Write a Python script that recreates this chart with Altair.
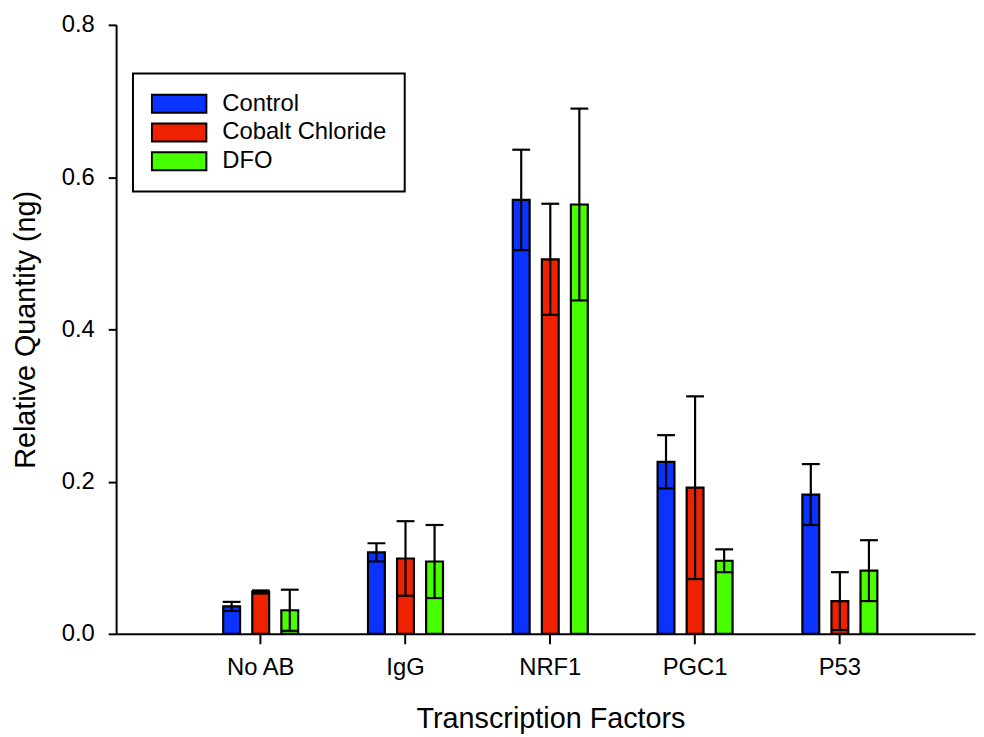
import altair as alt
import pandas as pd

categories = ["No AB", "IgG", "NRF1", "PGC1", "P53"]
series = ["Control", "Cobalt Chloride", "DFO"]
colors = ["#0a33ff", "#ee2200", "#48ff00"]

control = [0.036, 0.107, 0.570, 0.226, 0.183]
control_err = [0.006, 0.012, 0.066, 0.035, 0.040]
cobalt = [0.055, 0.099, 0.492, 0.192, 0.043]
cobalt_err = [0.002, 0.049, 0.073, 0.120, 0.038]
dfo = [0.031, 0.095, 0.564, 0.096, 0.083]
dfo_err = [0.027, 0.048, 0.126, 0.015, 0.040]

y_ticks = [0.0, 0.2, 0.4, 0.6, 0.8]

rows = []
for s, vals, errs in zip(series, [control, cobalt, dfo], [control_err, cobalt_err, dfo_err]):
    for c, v, e in zip(categories, vals, errs):
        rows.append({"factor": c, "group": s, "value": v, "lo": v - e, "hi": v + e})
df = pd.DataFrame(rows)

FONT = "Liberation Sans"
YTITLE = "Relative Quantity (ng)"

x = alt.X(
    "factor:N",
    sort=categories,
    title="Transcription Factors",
    scale=alt.Scale(paddingInner=0, paddingOuter=0.466, align=0.535),
    axis=alt.Axis(labelAngle=0, tickSize=10, labelPadding=12, titlePadding=25, titleX=438),
)
xo = alt.XOffset(
    "group:N",
    sort=series,
    scale=alt.Scale(range=[35.2, 110.8], paddingInner=0.42, paddingOuter=0),
)
yscale = alt.Scale(domain=[0, 0.8], nice=False)
y = alt.Y(
    "value:Q",
    scale=yscale,
    title=YTITLE,
    axis=alt.Axis(values=y_ticks, format=".1f", tickSize=8, labelPadding=14, titlePadding=21),
)
color = alt.Color(
    "group:N",
    sort=series,
    scale=alt.Scale(domain=series, range=colors),
    legend=alt.Legend(
        orient="none",
        legendX=17,
        legendY=49,
        title=None,
        padding=18,
        strokeColor="black",
        fillColor="white",
        clipHeight=25,
        rowPadding=4,
        symbolType="M-1,-0.327L1,-0.327L1,0.327L-1,0.327Z",
        symbolSize=3025,
        symbolOpacity=1,
        symbolStrokeColor="black",
        symbolStrokeWidth=2,
        labelFontSize=24,
        labelFont=FONT,
        labelColor="black",
        labelOffset=15,
        labelLimit=400,
    ),
)

base = alt.Chart(df)
bars = base.mark_bar(stroke="black", strokeWidth=2.2, opacity=1).encode(x=x, xOffset=xo, y=y, color=color)
rule = base.mark_rule(color="black", strokeWidth=2.2).encode(
    x=x, xOffset=xo, y=alt.Y("lo:Q", scale=yscale, title=YTITLE), y2="hi:Q"
)
cap_hi = base.mark_tick(color="black", thickness=2.2, size=18, opacity=1).encode(
    x=x, xOffset=xo, y=alt.Y("hi:Q", scale=yscale, title=YTITLE)
)
cap_lo = base.mark_tick(color="black", thickness=2.2, size=18, opacity=1).encode(
    x=x, xOffset=xo, y=alt.Y("lo:Q", scale=yscale, title=YTITLE)
)

chart = (
    alt.layer(bars, rule, cap_hi, cap_lo)
    .properties(
        width=866,
        height=614,
        autosize=alt.AutoSizeParams(type="none"),
        padding={"left": 109, "top": 14, "right": 1, "bottom": 101},
        background="white",
    )
    .configure_view(stroke=None)
    .configure_legend(strokeWidth=2)
    .configure_axis(
        grid=False,
        domainColor="black",
        domainWidth=2,
        tickColor="black",
        tickWidth=2,
        labelColor="black",
        titleColor="black",
        labelFont=FONT,
        titleFont=FONT,
        labelFontSize=24,
        titleFontSize=29,
        titleFontWeight="normal",
    )
)

chart.save("out.html", embed_options={"renderer": "svg", "actions": False})
